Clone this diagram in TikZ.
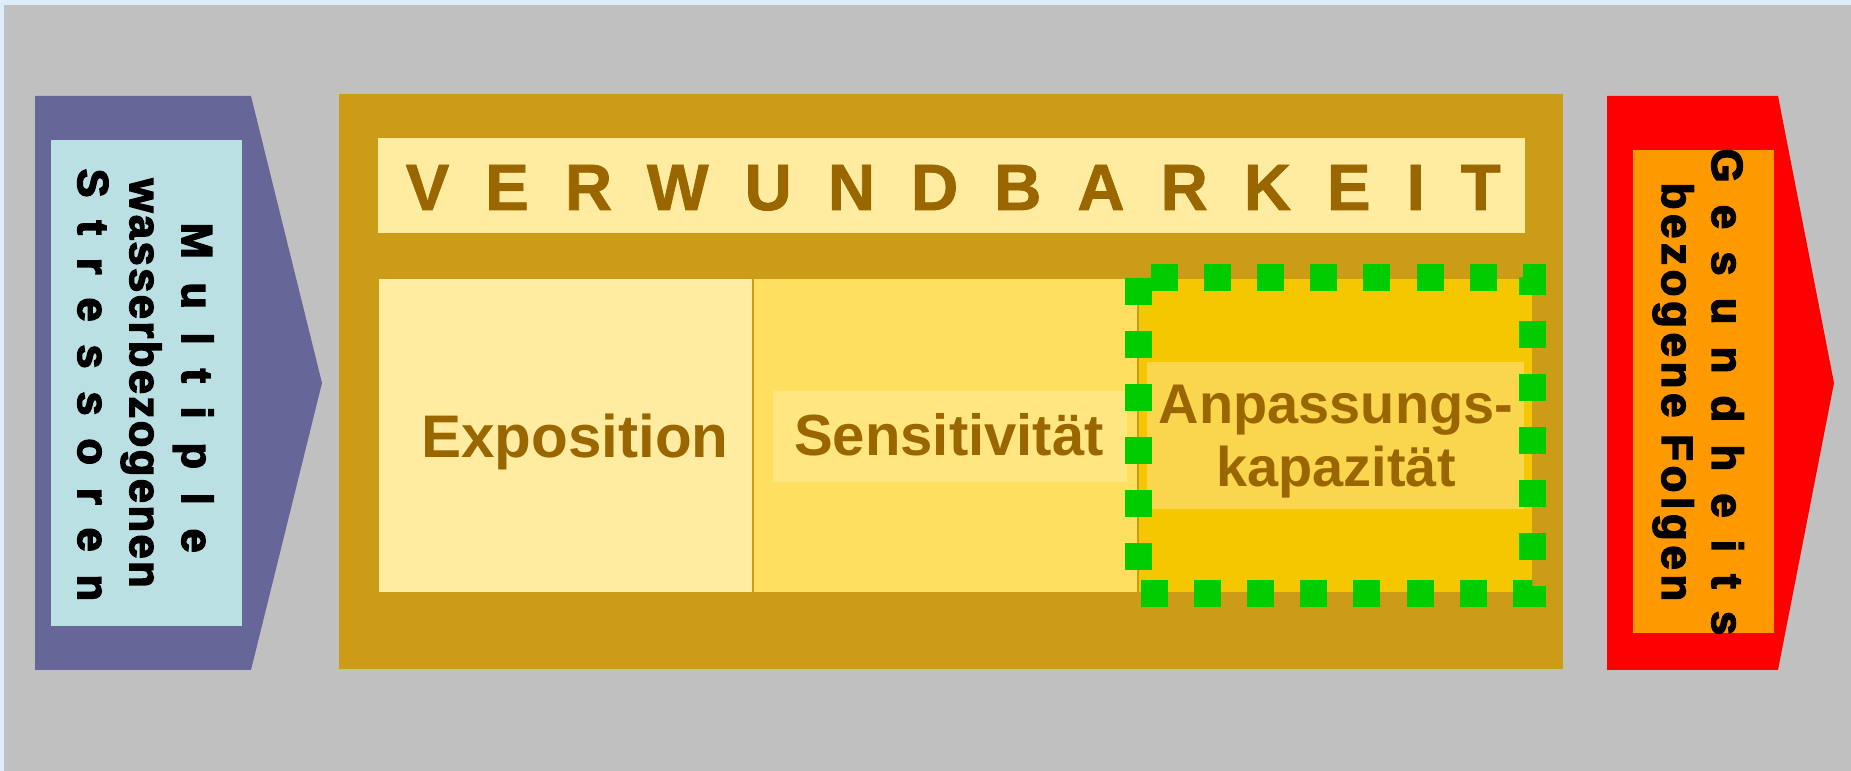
\documentclass[tikz,border=0pt]{standalone}
\usepackage{fontspec}
\setmainfont{Liberation Sans}
\newfontfamily\heavyfont{Liberation Sans Bold}[FakeBold=3.5]
\newfontfamily\titlefont{Liberation Sans Bold}[FakeBold=1.2]
\usetikzlibrary{positioning}
\definecolor{bgblue}{HTML}{DDEEFA}
\definecolor{bggray}{HTML}{C0C0C0}
\definecolor{gold}{RGB}{204,156,24}
\definecolor{paleyellow}{HTML}{FFECA0}
\definecolor{midyellow}{HTML}{FFDF5F}
\definecolor{deepyellow}{HTML}{F5C700}
\definecolor{sensband}{HTML}{FFE680}
\definecolor{adaptband}{HTML}{FAD64E}
\definecolor{darkbrown}{HTML}{996600}
\definecolor{slate}{HTML}{666699}
\definecolor{paleblue}{HTML}{BBE0E3}
\definecolor{amber}{HTML}{FF9900}
\definecolor{dashgreen}{HTML}{00CC00}

\begin{document}
\begin{tikzpicture}[x=0.01cm,y=-0.01cm,
  box/.style={draw=gold,line width=0.02cm,inner sep=0pt,outer sep=0pt,minimum height=3.15cm},
  band/.style={inner sep=0pt,outer sep=0pt},
  word/.style={text=darkbrown,font=\bfseries\fontsize{#1}{#1}\selectfont,anchor=base,inner sep=0pt},
  sidetext/.style={font=\heavyfont\fontsize{#1}{#1}\selectfont,rotate=-90,anchor=base west,inner sep=0pt}]
  \useasboundingbox (0,0) rectangle (1851,771);
  \fill[bgblue] (0,0) rectangle (1851,771);
  \fill[bggray] (4,5) rectangle (1851,771);

  \fill[gold] (339,94) rectangle (1563,669);
  \node[band,fill=paleyellow,minimum width=11.47cm,minimum height=0.95cm] (titlebox) at (951.5,185.5) {};
  \node[text=darkbrown,font=\titlefont\fontsize{18.6}{20}\selectfont,anchor=base west,inner sep=0pt] (title) at (405,210) {\addfontfeature{LetterSpace=55}VERWUNDBARKEIT};

  \node[box,fill=paleyellow,minimum width=3.75cm] (expo) at (565.5,435.5) {};
  \node[box,fill=midyellow,minimum width=3.85cm,right=0pt of expo] (sens) {};
  \node[box,fill=deepyellow,minimum width=3.94cm,right=0pt of sens] (adapt) {};
  \node[band,fill=sensband,minimum width=3.54cm,minimum height=0.91cm] (sensbg) at (950,436.5) {};
  \node[band,fill=adaptband,minimum width=3.77cm,minimum height=1.47cm] (adaptbg) at (1335.5,435.5) {};
  \draw[dashgreen,line width=0.27cm,dash pattern=on 0.27cm off 0.26cm] (adapt.north west) rectangle (adapt.south east);

  \node[word=17.1] (expotext) at (575,458) {Exposition};
  \node[word=16.5] (senstext) at (949,456) {Sensitivität};
  \node[word=15.9] (adapttop) at (1336,424) {Anpassungs-};
  \node[word=15.9] (adaptbot) at (1336,487) {kapazität};

  \fill[slate] (35,96) -- (251,96) -- (322,383) -- (251,670) -- (35,670) -- cycle;
  \node[band,fill=paleblue,minimum width=1.91cm,minimum height=4.86cm] (stressbox) at (146.5,383) {};
  \node[sidetext=12.3] (multi) at (182,222) {\addfontfeature{LetterSpace=55}Multiple};
  \node[sidetext=12.3] (water) at (130,178) {\addfontfeature{LetterSpace=6}wasserbezogenen};
  \node[sidetext=12.3] (stress) at (78,168) {\addfontfeature{LetterSpace=53}Stressoren};

  \fill[red] (1607,96) -- (1778,96) -- (1834,383) -- (1778,670) -- (1607,670) -- cycle;
  \node[band,fill=amber,minimum width=1.41cm,minimum height=4.83cm] (healthbox) at (1703.5,391.5) {};
  \node[sidetext=12.4] (health) at (1712,148) {\addfontfeature{LetterSpace=51}Gesundheits};
  \node[sidetext=12.4] (effects) at (1662,182) {\addfontfeature{LetterSpace=11}bezogene Folgen};
\end{tikzpicture}
\end{document}
